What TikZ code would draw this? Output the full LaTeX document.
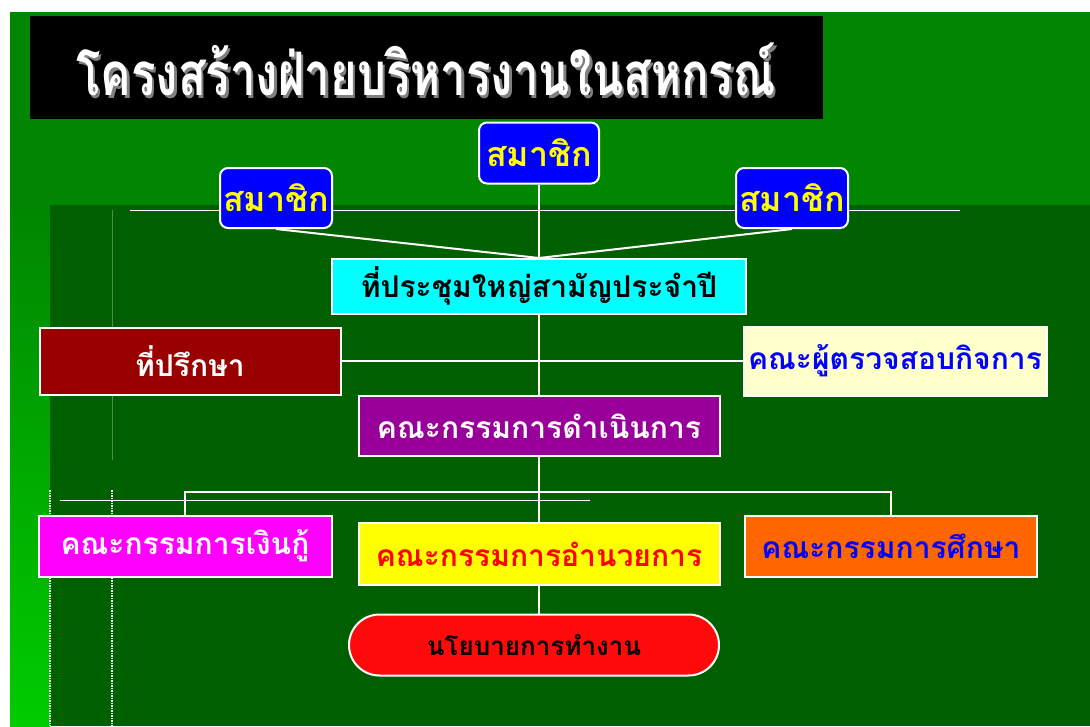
\documentclass[tikz,border=0pt]{standalone}
\usepackage{fontspec}
\newfontfamily\thai[Script=Thai]{Loma}
\usetikzlibrary{shapes.misc}
\definecolor{bggreen}{RGB}{0,134,0}
\definecolor{darkgreen}{RGB}{0,96,0}
\definecolor{litegreen}{RGB}{0,204,0}
\definecolor{memblue}{RGB}{0,0,255}
\definecolor{meetcyan}{RGB}{0,255,255}
\definecolor{advred}{RGB}{153,0,0}
\definecolor{audityel}{RGB}{255,255,204}
\definecolor{boardpur}{RGB}{153,0,153}
\definecolor{loanmag}{RGB}{255,0,255}
\definecolor{eduorange}{RGB}{255,102,0}
\definecolor{polred}{RGB}{255,10,10}
\definecolor{memyellow}{RGB}{255,255,0}
\tikzset{
  box/.style={draw=white, line width=2pt, inner sep=0pt, font=\thai\bfseries\fontsize{30}{33}\selectfont},
  member/.style={box, rounded corners=8pt, fill=memblue, text=memyellow, minimum width=112pt, minimum height=60pt,
     font=\thai\bfseries\fontsize{34}{36}\selectfont},
  conn/.style={draw=white, line width=2pt},
}
\begin{document}
\begin{tikzpicture}[x=1pt,y=-1pt]
\useasboundingbox (0,0) rectangle (1090,726);
\fill[white] (0,0) rectangle (1090,726);
% background panels
\fill[bggreen] (10,12) rectangle (1090,726);
\shade[top color=bggreen, bottom color=litegreen] (10,205) rectangle (50,726);
\fill[darkgreen] (50,205) rectangle (1090,726);
\draw[white, line width=0.8pt] (130,210) -- (960,210);
\draw[white, line width=0.8pt] (60,500) -- (590,500);
\draw[white!30!darkgreen, line width=1pt] (112,210) -- (112,460);
\draw[white, line width=1.5pt, densely dotted] (50,490) -- (50,726);
\draw[white, line width=1.5pt, densely dotted] (112,490) -- (112,726);
% title
\fill[black] (30,16) rectangle (823,119);
\node[inner sep=0pt, text=white, xscale=0.76, font=\thai\bfseries\fontsize{60}{64}\selectfont] (title) at (426,71)
  {\makebox[0pt][l]{\hspace{3pt}\raisebox{-3pt}{\textcolor{gray}{โครงสร้างฝ่ายบริหารงานในสหกรณ์}}}โครงสร้างฝ่ายบริหารงานในสหกรณ์};
% nodes
\node[member, minimum width=120pt, minimum height=61pt] (mtop) at (539,153) {สมาชิก};
\node[member] (mleft) at (276,198) {สมาชิก};
\node[member] (mright) at (792,198) {สมาชิก};
\node[box, fill=meetcyan, text=black, minimum width=414pt, minimum height=55pt] (meeting) at (539,286) {ที่ประชุมใหญ่สามัญประจำปี};
\node[box, fill=advred, text=white, minimum width=301pt, minimum height=67pt] (advisor) at (190,361) {ที่ปรึกษา};
\node[box, fill=audityel, text=memblue, minimum width=303pt, minimum height=69pt] (auditor) at (895,361) {คณะผู้ตรวจสอบกิจการ};
\node[box, fill=boardpur, text=white, minimum width=361pt, minimum height=60pt] (board) at (539,426) {คณะกรรมการดำเนินการ};
\node[box, fill=loanmag, text=white, minimum width=293pt, minimum height=61pt] (loan) at (185,546) {คณะกรรมการเงินกู้};
\node[box, fill=memyellow, text=red, minimum width=361pt, minimum height=62pt] (exec) at (539,554) {คณะกรรมการอำนวยการ};
\node[box, fill=eduorange, text=memblue, minimum width=292pt, minimum height=61pt] (edu) at (891,546) {คณะกรรมการศึกษา};
\node[box, rounded rectangle, fill=polred, text=black, minimum width=370pt, minimum height=61pt,
      font=\thai\bfseries\fontsize{26}{28}\selectfont] (policy) at (534,645) {นโยบายการทำงาน};
% connectors
\coordinate (hub) at (539,258);
\draw[conn] (mtop.south) -- (meeting.north);
\draw[conn] (mleft.south) -- (hub);
\draw[conn] (mright.south) -- (hub);
\draw[conn] (meeting.south) -- (board.north);
\draw[conn] (advisor.east) -- (auditor.west);
\draw[conn] (board.south) -- (exec.north);
\draw[conn] (loan.north) |- (539,492) -| (edu.north);
\draw[conn] (exec.south) -- (exec.south |- policy.north);
\end{tikzpicture}
\end{document}
